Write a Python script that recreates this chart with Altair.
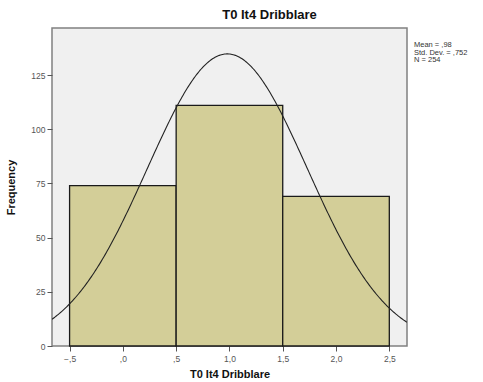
import altair as alt
import pandas as pd

# Histogram of T0 It4 Dribblare (bin width 1)
bin_start = [-0.5, 0.5, 1.5]
bin_end = [0.5, 1.5, 2.5]
frequency = [74, 111, 69]

# Summary statistics shown beside the plot
MEAN = 0.98
SD = 0.752
N = 254
BIN_WIDTH = 1.0
stats_lines = ["Mean = ,98", "Std. Dev. = ,752", "N = 254"]

x_ticks = [-0.5, 0.0, 0.5, 1.0, 1.5, 2.0, 2.5]
y_ticks = [0, 25, 50, 75, 100, 125]

X_DOMAIN = [-0.665, 2.666]
Y_DOMAIN = [0, 146.7]

bars = pd.DataFrame({"start": bin_start, "end": bin_end, "freq": frequency})

font = "Liberation Sans"

x_scale = alt.Scale(domain=X_DOMAIN, nice=False, zero=False)
y_scale = alt.Scale(domain=Y_DOMAIN, nice=False)

x_axis = alt.Axis(
    values=x_ticks,
    title="T0 It4 Dribblare",
    labelExpr="replace(replace(format(datum.value, '.1f'), '0.', '.'), '.', ',')",
    grid=False, domain=False, tickColor="#555", tickSize=5,
    labelColor="#555", labelFont=font, labelFontSize=8.5, labelPadding=3,
    titleFont=font, titleFontSize=11, titleFontWeight="bold", titleColor="#111",
    titlePadding=6,
)
y_axis = alt.Axis(
    values=y_ticks,
    title="Frequency",
    grid=False, domain=False, tickColor="#555", tickSize=5,
    labelColor="#555", labelFont=font, labelFontSize=8.5, labelPadding=2,
    titleFont=font, titleFontSize=11, titleFontWeight="bold", titleColor="#111",
    titlePadding=14,
)

hist = alt.Chart(bars).mark_rect(
    fill="#d3ce98", stroke="#1a1a1a", strokeWidth=1.3
).encode(
    x=alt.X("start:Q", scale=x_scale, axis=x_axis),
    x2="end:Q",
    y=alt.Y("freq:Q", scale=y_scale, axis=y_axis),
    y2=alt.datum(0),
)

# Fitted normal curve scaled to counts: N * width * pdf(x)
curve = alt.Chart(alt.sequence(X_DOMAIN[0], X_DOMAIN[1] + 0.005, 0.01, as_="x")).transform_calculate(
    density=f"{N} * {BIN_WIDTH} / ({SD} * sqrt(2 * PI)) * exp(-0.5 * pow((datum.x - {MEAN}) / {SD}, 2))"
).mark_line(color="#222222", strokeWidth=1.1, clip=True).encode(
    x=alt.X("x:Q", scale=x_scale),
    y=alt.Y("density:Q", scale=y_scale),
)

# Statistics block to the right of the plot frame, one text mark per line
stats_layers = [
    alt.Chart(pd.DataFrame({"line": [txt]})).mark_text(
        align="left", baseline="middle", font=font, fontSize=7.5, color="#333"
    ).encode(x=alt.value(362), y=alt.value(17 + 7.5 * i), text="line:N")
    for i, txt in enumerate(stats_lines)
]

chart = alt.layer(hist, curve, *stats_layers).properties(
    width=355,
    height=318,
    autosize=alt.AutoSizeParams(type="none"),
    padding={"left": 52, "top": 28, "right": 76, "bottom": 36},
    background="white",
    title=alt.TitleParams(
        "T0 It4 Dribblare", font=font, fontSize=13, fontWeight="bold",
        color="#111", anchor="middle", dx=40, offset=6,
    ),
).configure_view(
    fill="#f0f0f0", stroke="#808080", strokeWidth=1.5
)

chart.save("out.html", embed_options={"renderer": "svg", "actions": False})
